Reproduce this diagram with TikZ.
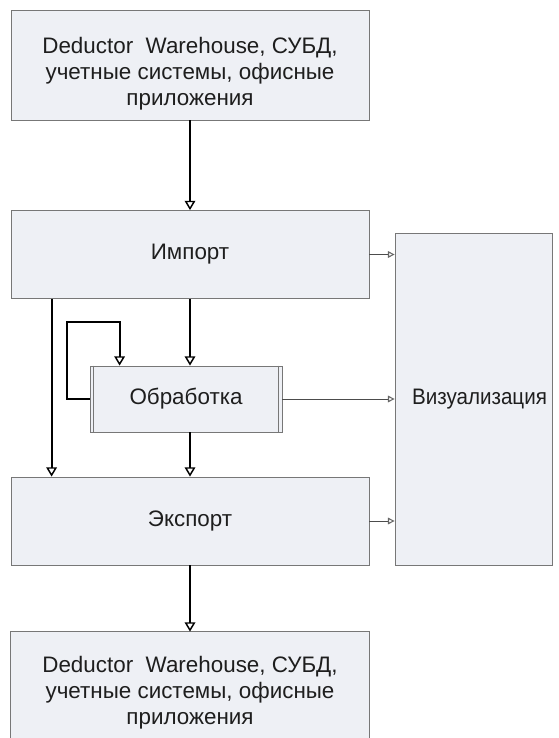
\documentclass[tikz,border=0pt]{standalone}
\usepackage{fontspec}
\setmainfont{Liberation Sans}
\usetikzlibrary{arrows.meta}
\definecolor{boxfill}{HTML}{EEF0F5}
\definecolor{boxline}{HTML}{777777}
\definecolor{txt}{HTML}{1E1E1E}
\tikzset{
  block/.style={draw=boxline,fill=boxfill,line width=0.6pt,inner sep=0pt,align=center,
    text=txt,font=\fontsize{16.8}{19.5}\selectfont},
  flow/.style={line width=1.5pt,-{Triangle[open,length=7pt,width=8pt,line width=1.1pt]}},
  thin flow/.style={line width=0.6pt,draw=black!70,-{Triangle[open,length=5pt,width=5pt,line width=0.8pt,color=black!60]}}
}
\begin{document}
\begin{tikzpicture}[x=0.75pt,y=-0.75pt]
\useasboundingbox (0,0) rectangle (558,738);
\node[block,minimum width=358*0.75pt,minimum height=110*0.75pt] (src) at (190,65) {};
\node[block,draw=none,fill=none] (srctext) at (190,74) {Deductor\ \ Warehouse, СУБД,\\учетные системы, офисные\\приложения};
\node[block,minimum width=358*0.75pt,minimum height=88*0.75pt] (imp) at (190,254.5) {Импорт};
\node[block,minimum width=192*0.75pt,minimum height=66*0.75pt] (proc) at (186,399) {Обработка};
\draw[boxline,line width=0.6pt] ([xshift=4*0.75pt]proc.north west) -- ([xshift=4*0.75pt]proc.south west);
\draw[boxline,line width=0.6pt] ([xshift=-4*0.75pt]proc.north east) -- ([xshift=-4*0.75pt]proc.south east);
\node[block,minimum width=358*0.75pt,minimum height=88*0.75pt] (exp) at (190,521) {Экспорт};
\node[block,minimum width=157*0.75pt,minimum height=332*0.75pt] (viz) at (473.5,399) {};
\node[block,draw=none,fill=none] (viztext) at (479.5,399) {\scalebox{0.92}[1]{Визуализация}};
\node[block,draw=none,minimum width=358*0.75pt,minimum height=106*0.75pt] (dst) at (190,685) {};
\draw[boxline,line width=0.6pt] (dst.south west) -- (dst.north west) -- (dst.north east) -- (dst.south east);
\node[block,draw=none,fill=none] (dsttext) at (190,693) {Deductor\ \ Warehouse, СУБД,\\учетные системы, офисные\\приложения};
% main flow
\draw[flow] (src.south) -- (imp.north);
\draw[flow] (imp.south) -- (imp.south |- proc.north);
\draw[flow] (imp.south |- proc.south) -- (exp.north);
\draw[flow] ([xshift=41*0.75pt]imp.south west) -- ([xshift=41*0.75pt]exp.north west);
\draw[flow] (exp.south) -- (dst.north);
% loop
\draw[flow] (proc.west) -- ++(-23,0) |- ++(53,-77) -- ([xshift=30*0.75pt]proc.north west);
% to visualization
\draw[thin flow] (imp.east) -- (imp.east -| viz.west);
\draw[thin flow] (proc.east) -- (proc.east -| viz.west);
\draw[thin flow] (exp.east) -- (exp.east -| viz.west);
\end{tikzpicture}
\end{document}
